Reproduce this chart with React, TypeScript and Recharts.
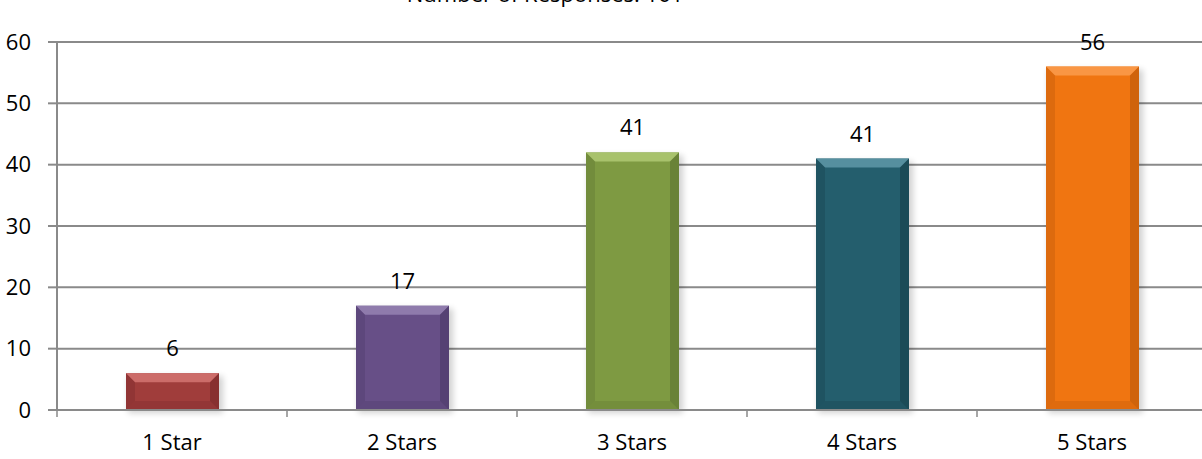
import { BarChart, Bar, CartesianGrid, XAxis, YAxis, LabelList, Cell } from "recharts";

const categories = ["1 Star", "2 Stars", "3 Stars", "4 Stars", "5 Stars"];
const responses = [6, 17, 42, 41, 56];
const labels = ["6", "17", "41", "41", "56"];
const yTicks = [0, 10, 20, 30, 40, 50, 60];
const title = "Number of Responses: 161";

const baseColors = ["#A03D3B", "#674F87", "#7E9A42", "#245E6D", "#F07511"];
const lightColors = ["#D0716F", "#9480B0", "#ADC671", "#5C95A4", "#F99A4A"];
const darkColors = ["#76282A", "#4A3866", "#5C7330", "#163F4A", "#B9560A"];

const data = categories.map((name, i) => ({ name, value: responses[i], label: labels[i] }));

const FONT = "'Open Sans', sans-serif";
const GRID = "#8A8A8A";

function BevelBar(props: any) {
  const { x, y, width, height, index } = props;
  if (height <= 0) return null;
  const b = Math.min(9, height / 2);
  const base = baseColors[index];
  const light = lightColors[index];
  const dark = darkColors[index];
  return (
    <g>
      <rect x={x + 2} y={y + 3} width={width + 2} height={height} fill="#000" opacity={0.18} filter="url(#barShadow)" />
      <rect x={x} y={y} width={width} height={height} fill={base} />
      <polygon points={`${x},${y} ${x + width},${y} ${x + width - b},${y + b} ${x + b},${y + b}`} fill={light} opacity={0.9} />
      <polygon points={`${x},${y} ${x + b},${y + b} ${x + b},${y + height - b} ${x},${y + height}`} fill={dark} opacity={0.35} />
      <polygon points={`${x + width},${y} ${x + width},${y + height} ${x + width - b},${y + height - b} ${x + width - b},${y + b}`} fill={dark} opacity={0.6} />
      <polygon points={`${x},${y + height} ${x + b},${y + height - b} ${x + width - b},${y + height - b} ${x + width},${y + height}`} fill={dark} opacity={0.3} />
    </g>
  );
}

// category label plus the tick marks at the band edges, Excel style
function CatTick(props: any) {
  const { x, y, payload, index, visibleTicksCount } = props;
  const half = payload && payload.offset ? payload.offset : 115;
  const last = index === (visibleTicksCount ?? categories.length) - 1;
  return (
    <g>
      <line x1={x - half} x2={x - half} y1={y} y2={y + 7} stroke={GRID} strokeWidth={1.5} />
      {last && <line x1={x + half} x2={x + half} y1={y} y2={y + 7} stroke={GRID} strokeWidth={1.5} />}
      <text x={x} y={y + 24} dy="0.71em" textAnchor="middle" fill="#000" fontSize={22} fontFamily={FONT}>
        {payload.value}
      </text>
    </g>
  );
}

export default function App() {
  return (
    <div style={{ position: "absolute", left: 0, top: 0, width: 1202, height: 459, overflow: "hidden", background: "#fff" }}>
      <svg width={1202} height={20} style={{ position: "absolute", left: 0, top: 0 }}>
        <text x={545} y={2} textAnchor="middle" fontFamily={FONT} fontSize={22} fill="#000">
          {title}
        </text>
      </svg>
      <BarChart
        width={1210}
        height={459}
        data={data}
        margin={{ top: 42, right: 3, left: 0, bottom: 0 }}
        style={{ fontFamily: FONT }}
      >
        <defs>
          <filter id="barShadow" x="-20%" y="-20%" width="140%" height="140%">
            <feGaussianBlur stdDeviation="3" />
          </filter>
        </defs>
        <CartesianGrid vertical={false} stroke={GRID} strokeWidth={2} />
        <XAxis
          dataKey="name"
          height={49}
          axisLine={{ stroke: GRID, strokeWidth: 2 }}
          tickLine={false}
          tickSize={0}
          tickMargin={0}
          tick={CatTick}
        />
        <YAxis
          domain={[0, 60]}
          ticks={yTicks}
          width={57}
          tickSize={9}
          tickMargin={17}
          axisLine={{ stroke: GRID, strokeWidth: 2 }}
          tickLine={{ stroke: GRID, strokeWidth: 2 }}
          tick={{ fill: "#000", fontSize: 22, fontFamily: FONT }}
        />
        <Bar dataKey="value" barSize={93} shape={BevelBar} isAnimationActive={false}>
          {data.map((d, i) => (
            <Cell key={d.name} fill={baseColors[i]} />
          ))}
          <LabelList dataKey="label" position="top" offset={17} fill="#000" fontSize={22} fontFamily={FONT} />
        </Bar>
      </BarChart>
    </div>
  );
}
